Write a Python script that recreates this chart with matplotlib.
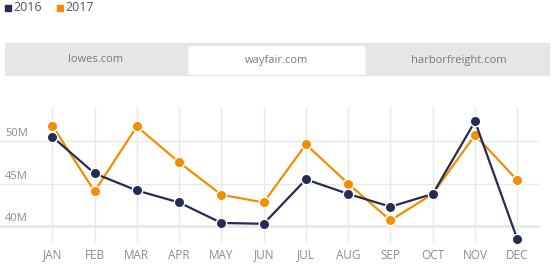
import matplotlib
matplotlib.use('Agg')
import matplotlib.pyplot as plt
from matplotlib.patches import Rectangle, FancyBboxPatch
from matplotlib.transforms import blended_transform_factory

months = ['JAN', 'FEB', 'MAR', 'APR', 'MAY', 'JUN',
          'JUL', 'AUG', 'SEP', 'OCT', 'NOV', 'DEC']
# values in millions
y2016 = [50.5, 46.2, 44.2, 42.8, 40.4, 40.3, 45.5, 43.8, 42.3, 43.8, 52.3, 38.5]
y2017 = [51.8, 44.1, 51.7, 47.5, 43.7, 42.8, 49.6, 45.0, 40.7, 43.8, 50.7, 45.4]
yticks = [40, 45, 50]
tabs = ['lowes.com', 'wayfair.com', 'harborfreight.com']
active_tab = 1

NAVY = '#252c54'
ORANGE = '#f28e00'
GRID = '#e8e8e8'
TXT = '#8c8c8c'

plt.rcParams['font.family'] = ['Open Sans', 'DejaVu Sans']

W, H = 554, 270
fig = plt.figure(figsize=(W / 100, H / 100), dpi=100)


def fx(px):
    return px / W


def fy(py):
    return 1 - py / H


# legend at the top
for i, (lab, col) in enumerate([('2016', NAVY), ('2017', ORANGE)]):
    x0 = 5 + i * 52
    fig.patches.append(Rectangle((fx(x0), fy(10.5)), fx(5.5), 5.5 / H,
                                 transform=fig.transFigure, color=col))
    fig.text(fx(x0 + 8), fy(7.5), lab, fontsize=9, color='#555555',
             va='center', ha='left')

# tab bar
fig.patches.append(Rectangle((fx(5), fy(75)), fx(544), 32 / H,
                             transform=fig.transFigure, color='#e6e6e6'))
tab_w = 544 / 3
for i, t in enumerate(tabs):
    x0 = 5 + i * tab_w
    if i == active_tab:
        fig.patches.append(FancyBboxPatch((fx(x0 + 2), fy(75)), fx(tab_w - 4), 29 / H,
                                          boxstyle='round,pad=0,rounding_size=0.006',
                                          transform=fig.transFigure,
                                          facecolor='white', edgecolor='none'))
    fig.text(fx(x0 + tab_w / 2), fy(60), t, fontsize=8, color='#7a7a7a',
             ha='center', va='center')

# line chart
ax = fig.add_axes([0, fy(243), fx(540), (243 - 107) / H])
x = list(range(len(months)))
for xi in x:
    ax.axvline(xi, color=GRID, lw=1, zorder=0)
for v in yticks:
    ax.axhline(v, xmax=538 / 540, color=GRID, lw=2 if v == yticks[0] else 1, zorder=0)

tr = blended_transform_factory(ax.transAxes, ax.transData)
for v in yticks:
    ax.text(5 / 540, v + 0.25, f'{v}M', transform=tr, fontsize=8, color=TXT,
            ha='left', va='bottom')

ax.plot(x, y2016, color=NAVY, lw=1.6, marker='o', ms=7.5,
        mfc=NAVY, mec='white', mew=1, zorder=3)
ax.plot(x, y2017, color=ORANGE, lw=1.6, marker='o', ms=7.5,
        mfc=ORANGE, mec='white', mew=1, zorder=2)

ax.set_xlim(-1.237, 11.537)
ax.set_ylim(38.05, 53.98)
ax.set_xticks(x)
ax.set_xticklabels(months)
ax.set_yticks([])
ax.tick_params(axis='x', length=0, pad=4, labelsize=8.5, labelcolor=TXT)
for s in ax.spines.values():
    s.set_visible(False)
ax.patch.set_alpha(0)

fig.savefig('out.png', dpi=100)
